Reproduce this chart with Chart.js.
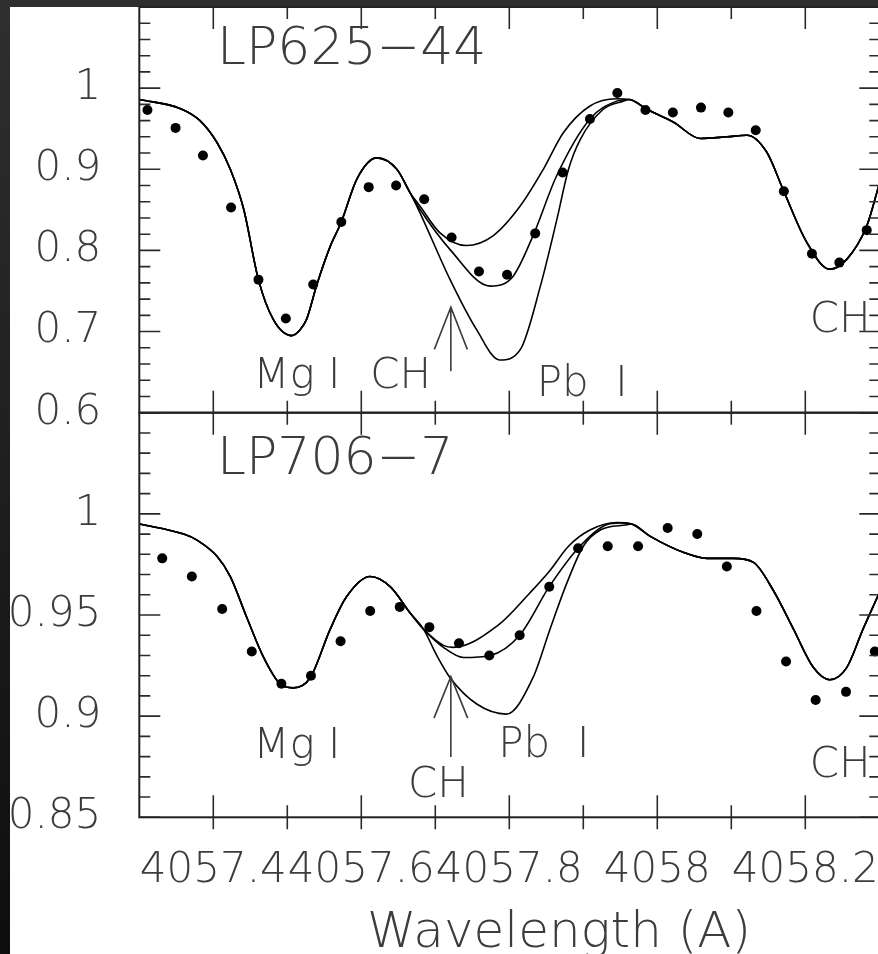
<!DOCTYPE html>
<html>
<head>
<meta charset="utf-8">
<title>Pb I 4057.8 - LP625-44 / LP706-7</title>
<script src="https://cdn.jsdelivr.net/npm/chart.js@4.4.1/dist/chart.umd.min.js"></script>
<style>
  html, body { margin: 0; padding: 0; }
  body {
    width: 878px; height: 954px; overflow: hidden; position: relative;
    background: linear-gradient(#2f2f2f, #0e0e0e);
  }
  #paper { position: absolute; left: 10px; top: 7px; width: 920px; height: 960px; background: #fff; }
  canvas { position: absolute; left: 0; }
  #topChart { top: -73px; }
  #botChart { top: 333px; }
</style>
</head>
<body>
<div id="paper"></div>
<canvas id="topChart" width="930" height="566"></canvas>
<canvas id="botChart" width="930" height="657"></canvas>
<script>
// ===== 觀測資料 (點) =====
const topObsX = [4057.311, 4057.349, 4057.386, 4057.424, 4057.461, 4057.498, 4057.535, 4057.573, 4057.610,
  4057.647, 4057.685, 4057.722, 4057.759, 4057.797, 4057.835, 4057.872, 4057.909, 4057.946, 4057.984,
  4058.021, 4058.059, 4058.096, 4058.133, 4058.171, 4058.209, 4058.246, 4058.283];
const topObsY = [0.973, 0.951, 0.917, 0.853, 0.764, 0.716, 0.758, 0.835, 0.878,
  0.880, 0.863, 0.816, 0.774, 0.770, 0.821, 0.896, 0.962, 0.994, 0.973,
  0.970, 0.976, 0.970, 0.948, 0.873, 0.796, 0.785, 0.825];

const botObsX = [4057.331, 4057.371, 4057.412, 4057.452, 4057.492, 4057.532, 4057.572, 4057.612, 4057.652,
  4057.692, 4057.732, 4057.773, 4057.814, 4057.854, 4057.893, 4057.933, 4057.974, 4058.014, 4058.054,
  4058.094, 4058.134, 4058.174, 4058.214, 4058.255, 4058.294];
const botObsY = [0.978, 0.969, 0.953, 0.932, 0.916, 0.920, 0.937, 0.952, 0.954,
  0.944, 0.936, 0.930, 0.940, 0.964, 0.983, 0.984, 0.984, 0.993, 0.990,
  0.974, 0.952, 0.927, 0.908, 0.912, 0.932];

// ===== 合成光譜 (線)：共用段 + 三條 Pb 分支 =====
const topHeadX = [4057.300, 4057.355, 4057.382, 4057.405, 4057.423, 4057.441, 4057.461, 4057.481, 4057.506,
  4057.517, 4057.526, 4057.540, 4057.558, 4057.573, 4057.594, 4057.621, 4057.648, 4057.666];
const topHeadY = [0.986, 0.975, 0.960, 0.933, 0.900, 0.851, 0.764, 0.715, 0.695,
  0.702, 0.715, 0.758, 0.805, 0.835, 0.888, 0.914, 0.900, 0.871];
const topWeakX = [4057.679, 4057.706, 4057.742, 4057.778, 4057.815, 4057.846, 4057.873, 4057.909, 4057.945];
const topWeakY = [0.855, 0.822, 0.806, 0.818, 0.855, 0.900, 0.945, 0.978, 0.987];
const topMidX = [4057.679, 4057.720, 4057.774, 4057.805, 4057.832, 4057.864, 4057.909, 4057.945];
const topMidY = [0.851, 0.801, 0.756, 0.768, 0.818, 0.892, 0.962, 0.984];
const topStrongX = [4057.679, 4057.720, 4057.756, 4057.787, 4057.815, 4057.842, 4057.864, 4057.880, 4057.896, 4057.927, 4057.954];
const topStrongY = [0.847, 0.764, 0.702, 0.665, 0.678, 0.756, 0.837, 0.900, 0.937, 0.974, 0.984];
const topTailX = [4057.962, 4057.986, 4058.022, 4058.058, 4058.094, 4058.121, 4058.148, 4058.170, 4058.202,
  4058.233, 4058.256, 4058.283, 4058.300];
const topTailY = [0.986, 0.974, 0.958, 0.938, 0.940, 0.942, 0.921, 0.875, 0.810,
  0.777, 0.789, 0.830, 0.882];

const botHeadX = [4057.300, 4057.360, 4057.378, 4057.405, 4057.423, 4057.445, 4057.468, 4057.490, 4057.508,
  4057.531, 4057.558, 4057.580, 4057.612, 4057.639, 4057.666, 4057.684];
const botHeadY = [0.995, 0.990, 0.987, 0.979, 0.969, 0.949, 0.929, 0.916, 0.914,
  0.919, 0.943, 0.959, 0.969, 0.964, 0.951, 0.943];
const botWeakX = [4057.711, 4057.724, 4057.785, 4057.828, 4057.855, 4057.880, 4057.909, 4057.945];
const botWeakY = [0.935, 0.934, 0.945, 0.961, 0.972, 0.984, 0.992, 0.9957];
const botMidX = [4057.711, 4057.738, 4057.774, 4057.814, 4057.854, 4057.893, 4057.931, 4057.950];
const botMidY = [0.934, 0.929, 0.930, 0.940, 0.964, 0.983, 0.9946, 0.9955];
const botStrongX = [4057.702, 4057.720, 4057.756, 4057.796, 4057.832, 4057.855, 4057.878, 4057.900, 4057.923, 4057.959];
const botStrongY = [0.930, 0.919, 0.906, 0.901, 0.919, 0.943, 0.966, 0.984, 0.992, 0.9946];
const botTailX = [4057.965, 4057.990, 4058.035, 4058.067, 4058.103, 4058.130, 4058.157, 4058.184, 4058.211,
  4058.233, 4058.256, 4058.278, 4058.300];
const botTailY = [0.995, 0.989, 0.981, 0.978, 0.978, 0.976, 0.962, 0.943, 0.924,
  0.918, 0.924, 0.943, 0.961];

// ===== 刻度標籤 =====
const xTickValues = [4057.4, 4057.6, 4057.8, 4058.0, 4058.2];
const xTickLabels = ["4057.4", "4057.6", "4057.8", "4058", "4058.2"];
const topYTickValues = [0.6, 0.7, 0.8, 0.9, 1.0];
const topYTickLabels = ["0.6", "0.7", "0.8", "0.9", "1"];
const botYTickValues = [0.85, 0.9, 0.95, 1.0];
const botYTickLabels = ["0.85", "0.9", "0.95", "1"];

// ===== 標註文字 (資料座標) =====
const topNotes = [
  { text: "LP625\u221244", x: 4057.405, y: 1.0296, size: 52 },
  { text: "Mg I", x: 4057.454, y: 0.631, size: 42 },
  { text: "CH", x: 4057.612, y: 0.631, size: 42 },
  { text: "Pb  I", x: 4057.837, y: 0.620, size: 42 },
  { text: "CH", x: 4058.206, y: 0.700, size: 42 }
];
const botNotes = [
  { text: "LP706\u22127", x: 4057.405, y: 1.0198, size: 52 },
  { text: "Mg I", x: 4057.454, y: 0.8792, size: 42 },
  { text: "CH", x: 4057.663, y: 0.8599, size: 42 },
  { text: "Pb  I", x: 4057.785, y: 0.8797, size: 42 },
  { text: "CH", x: 4058.206, y: 0.8698, size: 42 }
];
const topArrow = { x: 4057.721, tip: 0.730, foot: 0.651, armY: 0.678, armDx: 0.0223 };
const botArrow = { x: 4057.721, tip: 0.9195, foot: 0.8798, armY: 0.899, armDx: 0.0228 };

// ===== 共用樣式 =====
const INK = "#3c3c3c";
const FONT = "DejaVu Sans";
const THIN = "200";

function toPoints(xs, ys) {
  return xs.map((x, i) => ({ x: x, y: ys[i] }));
}

function joinCurve(headX, headY, midX, midY, tailX, tailY) {
  return toPoints(headX.concat(midX, tailX), headY.concat(midY, tailY));
}

function curveSet(points) {
  return {
    data: points,
    showLine: true,
    pointRadius: 0,
    borderColor: "#000",
    borderWidth: 1.6,
    cubicInterpolationMode: "monotone"
  };
}

function obsSet(points) {
  return {
    data: points,
    showLine: false,
    pointRadius: 5,
    pointBackgroundColor: "#000",
    pointBorderWidth: 0
  };
}

// ===== 框線、內向刻度、標註 =====
function decorPlugin(cfg) {
  return {
    id: "decor",
    afterDatasetsDraw(chart) {
      const { ctx, chartArea: a, scales: { x, y } } = chart;
      ctx.save();

      ctx.strokeStyle = "#2a2a2a";
      ctx.lineWidth = 1.6;
      ctx.beginPath();
      const nY = Math.round((cfg.yMax - cfg.yMin) / cfg.yMinor);
      for (let i = 0; i <= nY; i++) {
        const py = y.getPixelForValue(cfg.yMin + i * cfg.yMinor);
        const len = i % cfg.yRatio === 0 ? 21 : 11;
        ctx.moveTo(a.left, py); ctx.lineTo(a.left + len, py);
        ctx.moveTo(a.right, py); ctx.lineTo(a.right - len + 1, py);
      }
      for (let i = 1; i < 10; i++) {
        const px = x.getPixelForValue(4057.3 + i * 0.1);
        const len = i % 2 === 1 ? 22 : 12;
        ctx.moveTo(px, a.top); ctx.lineTo(px, a.top + len);
        ctx.moveTo(px, a.bottom); ctx.lineTo(px, a.bottom - len);
        if (cfg.outward) {
          ctx.moveTo(px, a.bottom); ctx.lineTo(px, a.bottom + 12);
        }
      }
      ctx.stroke();

      ctx.strokeStyle = "#222";
      ctx.lineWidth = 2;
      ctx.strokeRect(a.left, a.top, a.width, a.height);

      ctx.fillStyle = INK;
      ctx.textAlign = "left";
      ctx.textBaseline = "alphabetic";
      cfg.notes.forEach(n => {
        ctx.font = `${THIN} ${n.size}px "${FONT}"`;
        ctx.fillText(n.text, x.getPixelForValue(n.x), y.getPixelForValue(n.y));
      });

      const ar = cfg.arrow;
      const ax = x.getPixelForValue(ar.x);
      const tipY = y.getPixelForValue(ar.tip);
      const armY = y.getPixelForValue(ar.armY);
      ctx.strokeStyle = INK;
      ctx.lineWidth = 1.6;
      ctx.beginPath();
      ctx.moveTo(ax, y.getPixelForValue(ar.foot)); ctx.lineTo(ax, tipY);
      ctx.moveTo(x.getPixelForValue(ar.x - ar.armDx), armY); ctx.lineTo(ax, tipY);
      ctx.lineTo(x.getPixelForValue(ar.x + ar.armDx), armY);
      ctx.stroke();

      if (cfg.xTitle) {
        ctx.font = `${THIN} 50px "${FONT}"`;
        ctx.textAlign = "center";
        ctx.fillText(cfg.xTitle, 559, 947 - 333);
      }
      ctx.restore();
    }
  };
}

function yScale(min, max, values, labels) {
  return {
    type: "linear",
    min: min,
    max: max,
    afterFit: s => { s.width = 139.3; },
    afterBuildTicks: s => { s.ticks = values.map(v => ({ value: v })); },
    grid: { drawOnChartArea: false, drawTicks: false },
    border: { display: false },
    ticks: {
      padding: 38,
      color: INK,
      font: { family: FONT, size: 42, weight: THIN },
      callback: (v, i) => labels[i]
    }
  };
}

// ===== 上圖 LP625-44 =====
new Chart(document.getElementById("topChart"), {
  type: "scatter",
  data: {
    datasets: [
      obsSet(toPoints(topObsX, topObsY)),
      curveSet(joinCurve(topHeadX, topHeadY, topWeakX, topWeakY, topTailX, topTailY)),
      curveSet(joinCurve(topHeadX, topHeadY, topMidX, topMidY, topTailX, topTailY)),
      curveSet(joinCurve(topHeadX, topHeadY, topStrongX, topStrongY, topTailX, topTailY))
    ]
  },
  options: {
    responsive: false,
    animation: false,
    layout: { padding: { top: 80, bottom: 80.3, left: 0, right: 50.7 } },
    plugins: { legend: { display: false }, tooltip: { enabled: false } },
    scales: {
      x: { type: "linear", min: 4057.3, max: 4058.3, display: false },
      y: yScale(0.6, 1.1, topYTickValues, topYTickLabels)
    }
  },
  plugins: [decorPlugin({ yMin: 0.6, yMax: 1.1, yMinor: 0.02, yRatio: 5, notes: topNotes, arrow: topArrow })]
});

// ===== 下圖 LP706-7 =====
new Chart(document.getElementById("botChart"), {
  type: "scatter",
  data: {
    datasets: [
      obsSet(toPoints(botObsX, botObsY)),
      curveSet(joinCurve(botHeadX, botHeadY, botWeakX, botWeakY, botTailX, botTailY)),
      curveSet(joinCurve(botHeadX, botHeadY, botMidX, botMidY, botTailX, botTailY)),
      curveSet(joinCurve(botHeadX, botHeadY, botStrongX, botStrongY, botTailX, botTailY))
    ]
  },
  options: {
    responsive: false,
    animation: false,
    layout: { padding: { top: 79.7, bottom: 0, left: 0, right: 50.7 } },
    plugins: { legend: { display: false }, tooltip: { enabled: false } },
    scales: {
      x: {
        type: "linear",
        min: 4057.3,
        max: 4058.3,
        afterFit: s => { s.height = 172.7; },
        afterBuildTicks: s => { s.ticks = xTickValues.map(v => ({ value: v })); },
        grid: { drawOnChartArea: false, drawTicks: false },
        border: { display: false },
        ticks: {
          padding: 29,
          autoSkip: false,
          maxRotation: 0,
          minRotation: 0,
          color: INK,
          font: { family: FONT, size: 42, weight: THIN },
          callback: (v, i) => xTickLabels[i]
        }
      },
      y: yScale(0.85, 1.05, botYTickValues, botYTickLabels)
    }
  },
  plugins: [decorPlugin({ yMin: 0.85, yMax: 1.05, yMinor: 0.01, yRatio: 5, notes: botNotes, arrow: botArrow,
    outward: true, xTitle: "Wavelength (A)" })]
});
</script>
</body>
</html>
